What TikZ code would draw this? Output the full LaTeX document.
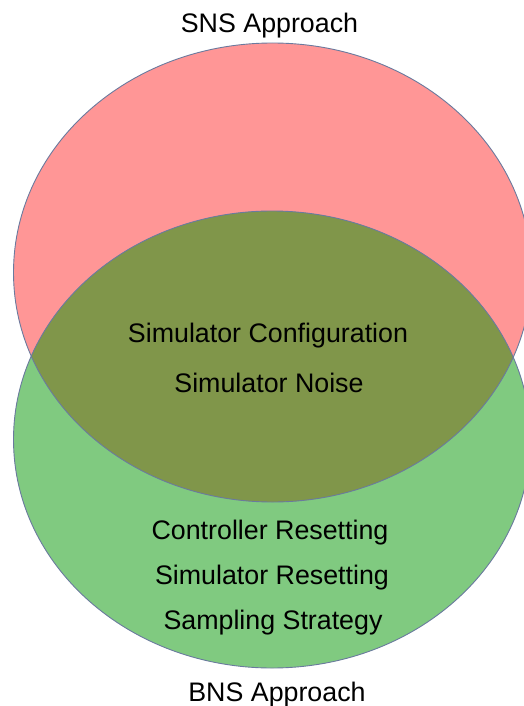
\documentclass[tikz,border=0pt]{standalone}
\usepackage{fontspec}
\setmainfont{Liberation Sans}
\definecolor{snsred}{HTML}{FF9696}
\definecolor{bnsgreen}{HTML}{80CA80}
\definecolor{botholive}{HTML}{80964A}
\definecolor{rimblue}{HTML}{6A7A9E}
\begin{document}
\begin{tikzpicture}[x=1pt,y=-1pt,
  label/.style={font=\fontsize{26.8}{30}\selectfont, inner sep=0pt, anchor=base, text=black},
  rim/.style={draw=rimblue, line width=0.9pt}]
\useasboundingbox (0,0) rectangle (523,706);
% the two sets
\fill[snsred] (272.5,272.5) ellipse [x radius=259, y radius=229.5];
\fill[bnsgreen] (272,439.5) ellipse [x radius=258.5, y radius=228.5];
% their intersection
\begin{scope}
  \clip (272.5,272.5) ellipse [x radius=259, y radius=229.5];
  \fill[botholive] (272,439.5) ellipse [x radius=258.5, y radius=228.5];
\end{scope}
% outlines
\draw[rim] (272.5,272.5) ellipse [x radius=259, y radius=229.5];
\draw[rim] (272,439.5) ellipse [x radius=258.5, y radius=228.5];
% labels
\node[label] (sns) at (269.5,33) {SNS Approach};
\node[label] (cfg) at (268,342) {Simulator Configuration};
\node[label] (noise) at (269,392) {Simulator Noise};
\node[label] (ctrl) at (270,539) {Controller Resetting};
\node[label] (simreset) at (272,584) {Simulator Resetting};
\node[label] (sampling) at (273,629) {Sampling Strategy};
\node[label] (bns) at (277,701) {BNS Approach};
\end{tikzpicture}
\end{document}
